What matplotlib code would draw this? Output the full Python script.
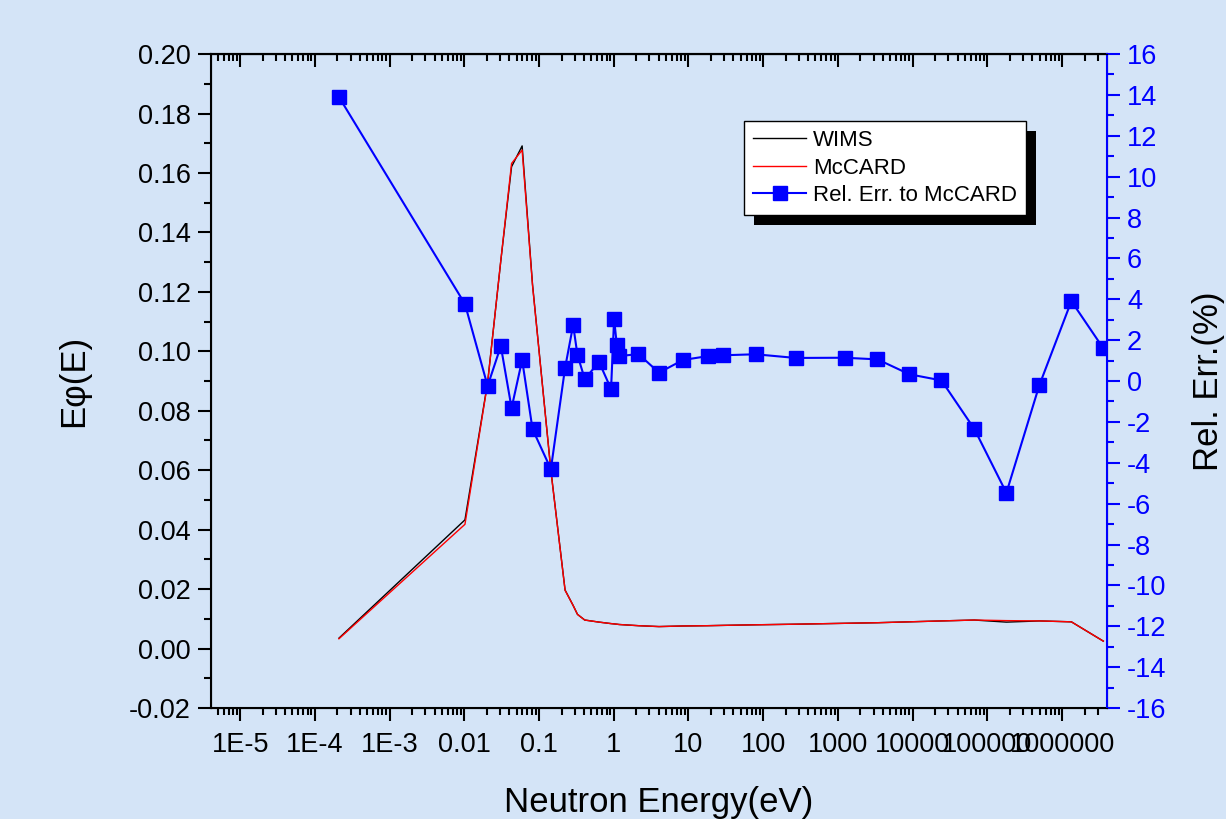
import numpy as np
import matplotlib
matplotlib.use('Agg')
import matplotlib.pyplot as plt
from matplotlib.ticker import FixedLocator, FixedFormatter, LogLocator, MultipleLocator, NullFormatter
from matplotlib.patches import Rectangle

plt.rcParams['font.family'] = ['Liberation Sans', 'DejaVu Sans']
plt.rcParams['axes.unicode_minus'] = False

# group energies (eV)
energy = [2.1e-4, 0.0102, 0.0205, 0.0308, 0.0429, 0.0594, 0.0818, 0.144, 0.223, 0.286,
          0.327, 0.409, 0.636, 0.92, 1.01, 1.10, 1.18, 2.14, 4.03, 8.44,
          18.1, 28.6, 79.1, 271, 1225, 3383, 9060, 24270, 67000, 179600,
          495000, 1.33e6, 3.56e6]

wims = [0.0035, 0.0433, 0.0895, 0.1305, 0.1621, 0.1691, 0.1225, 0.0600, 0.0197, 0.0145,
        0.0115, 0.0096, 0.0089, 0.0084, 0.0083, 0.0082, 0.0081, 0.0077, 0.0074, 0.0076,
        0.0077, 0.0078, 0.0080, 0.0082, 0.0085, 0.0087, 0.0090, 0.0093, 0.0096, 0.0089,
        0.0093, 0.0090, 0.0025]

mccard = [0.0033, 0.0418, 0.0893, 0.1306, 0.1632, 0.1677, 0.1222, 0.0598, 0.0196, 0.0145,
          0.0115, 0.0096, 0.0089, 0.0084, 0.0083, 0.0082, 0.0081, 0.0077, 0.0074, 0.0076,
          0.0077, 0.0078, 0.0080, 0.0082, 0.0085, 0.0087, 0.0090, 0.0093, 0.0096, 0.0094,
          0.0093, 0.0090, 0.0025]

rel_err = [13.9, 3.77, -0.24, 1.71, -1.32, 1.03, -2.35, -4.31, 0.64, 2.74,
           1.27, 0.10, 0.93, -0.39, 3.03, 1.76, 1.22, 1.32, 0.41, 1.03,
           1.22, 1.26, 1.31, 1.13, 1.14, 1.06, 0.33, 0.03, -2.35, -5.47,
           -0.21, 3.91, 1.60]

xtick_vals = [1e-5, 1e-4, 1e-3, 1e-2, 1e-1, 1, 10, 100, 1e3, 1e4, 1e5, 1e6]
xtick_labels = ['1E-5', '1E-4', '1E-3', '0.01', '0.1', '1', '10', '100', '1000',
                '10000', '100000', '1000000']

bg = '#d4e4f7'
fig = plt.figure(figsize=(12.26, 8.19), dpi=100, facecolor=bg)
ax = fig.add_axes([0.1721, 0.1355, 0.7308, 0.7985])
ax.set_facecolor(bg)

ax.plot(energy, wims, c='k', lw=1.0, label='WIMS')
ax.plot(energy, mccard, c='r', lw=1.0, label='McCARD')
ax.set_xscale('log')
ax.set_xlim(10**-5.39, 10**6.60)
ax.set_ylim(-0.02, 0.20)

ax.xaxis.set_major_locator(FixedLocator(xtick_vals))
ax.xaxis.set_major_formatter(FixedFormatter(xtick_labels))
ax.xaxis.set_minor_locator(LogLocator(base=10, subs=np.arange(2, 10), numticks=30))
ax.xaxis.set_minor_formatter(NullFormatter())
ax.yaxis.set_major_locator(MultipleLocator(0.02))
ax.yaxis.set_minor_locator(MultipleLocator(0.01))
ax.yaxis.set_major_formatter(matplotlib.ticker.FormatStrFormatter('%.2f'))

ax.tick_params(axis='both', which='major', direction='out', length=9.5, width=1.5,
               labelsize=19.5, pad=5)
ax.tick_params(axis='x', which='major', pad=8)
ax.tick_params(axis='both', which='minor', direction='out', length=5, width=1.5)
ax.tick_params(axis='y', which='both', right=False)
for s in ['left', 'bottom', 'top']:
    ax.spines[s].set_linewidth(1.5)

# top axis with inward ticks
top = ax.secondary_xaxis('top')
top.xaxis.set_major_locator(FixedLocator(xtick_vals))
top.xaxis.set_minor_locator(LogLocator(base=10, subs=np.arange(2, 10), numticks=30))
top.tick_params(which='major', direction='in', length=9.5, width=1.5, labeltop=False)
top.tick_params(which='minor', direction='in', length=5, width=1.5)
top.spines['top'].set_linewidth(1.5)

ax.set_xlabel('Neutron Energy(eV)', fontsize=25, labelpad=20)
ax.set_ylabel('E\u03c6(E)', fontsize=25, labelpad=28)

ax2 = ax.twinx()
ax2.plot(energy, rel_err, c='b', lw=1.5, marker='s', ms=9.4, mfc='b', mec='b',
         label='Rel. Err. to McCARD')
ax2.set_ylim(-16, 16)
ax2.yaxis.set_major_locator(MultipleLocator(2))
ax2.yaxis.set_minor_locator(MultipleLocator(1))
ax2.tick_params(axis='y', which='major', direction='out', length=9.5, width=1.5,
                colors='b', labelsize=19.5, pad=5)
ax2.tick_params(axis='y', which='minor', direction='out', length=5, width=1.5, colors='b')
ax2.spines['right'].set_color('b')
ax2.spines['right'].set_linewidth(1.5)
ax2.set_ylabel('Rel. Err.(%)', fontsize=25, labelpad=18)

h1, l1 = ax.get_legend_handles_labels()
h2, l2 = ax2.get_legend_handles_labels()
leg = fig.legend(h1 + h2, l1 + l2, loc='upper left',
                 bbox_to_anchor=(744 / 1226, 1 - 121 / 819), fontsize=16,
                 fancybox=False, framealpha=1, edgecolor='k', facecolor='white',
                 handlelength=2.4, handletextpad=0.3, labelspacing=0.3,
                 borderpad=0.4, borderaxespad=0)
leg.get_frame().set_linewidth(1.0)
leg.set_zorder(6)

fig.canvas.draw()
bb = leg.get_window_extent()
shadow = Rectangle((bb.x0 + 10, bb.y0 - 10), bb.width, bb.height, transform=None,
                   facecolor='k', edgecolor='none', zorder=5.5)
fig.patches.append(shadow)

fig.savefig('out.png', dpi=100, facecolor=bg)
